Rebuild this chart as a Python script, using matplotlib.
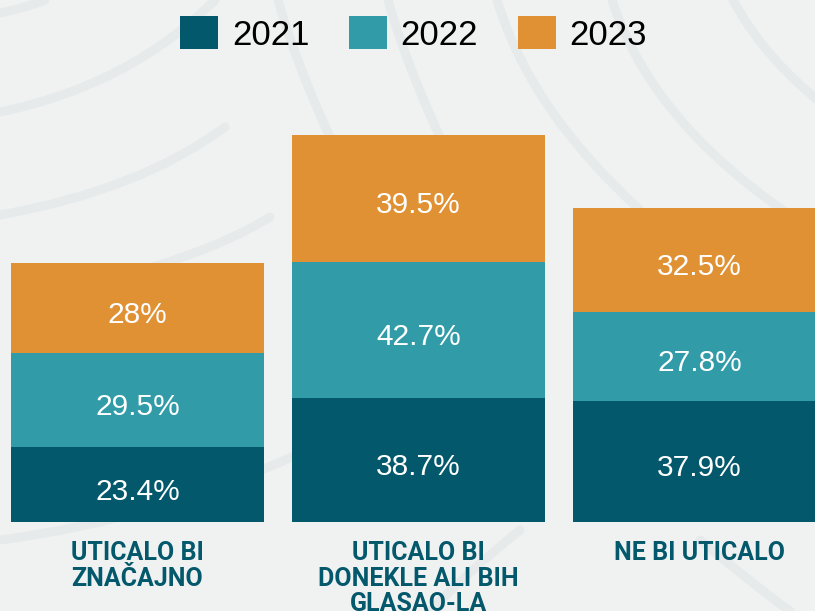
import matplotlib
matplotlib.use('Agg')
import matplotlib.pyplot as plt
from matplotlib.path import Path
from matplotlib.patches import PathPatch
import numpy as np

# ---- data ----
categories = ['UTICALO BI\nZNAČAJNO', 'UTICALO BI\nDONEKLE ALI BIH\nGLASAO-LA', 'NE BI UTICALO']
years = ['2021', '2022', '2023']
v2021 = [23.4, 38.7, 37.9]
v2022 = [29.5, 42.7, 27.8]
v2023 = [28.0, 39.5, 32.5]

colors = ['#03586b', '#319ca8', '#df9134']
bg = '#f0f2f2'
arc_col = '#e6eaeb'

fig = plt.figure(figsize=(8.15, 6.11), dpi=100, facecolor=bg)

# ---- faint decorative arcs in the background ----
bg_ax = fig.add_axes([0, 0, 1, 1], zorder=0)
bg_ax.set_xlim(0, 815)
bg_ax.set_ylim(611, 0)
bg_ax.axis('off')
curves = [
    [(0, 13), (25, 8), (45, 0)],
    [(0, 112), (130, 85), (215, 0)],
    [(0, 215), (140, 190), (225, 127)],
    [(150, 268), (225, 245), (270, 217)],
    [(278, 0), (300, 80), (360, 200)],
    [(388, 0), (410, 80), (470, 200)],
    [(497, 0), (530, 110), (640, 210)],
    [(612, 0), (650, 120), (790, 215)],
    [(733, 0), (765, 60), (830, 110)],
    [(0, 540), (160, 520), (330, 440)],
    [(430, 611), (470, 570), (520, 530)],
    [(700, 540), (760, 590), (790, 611)],
]
for pts in curves:
    path = Path(pts, [Path.MOVETO, Path.CURVE3, Path.CURVE3])
    bg_ax.add_patch(PathPatch(path, fill=False, edgecolor=arc_col, lw=6.5,
                              capstyle='round'))

# ---- stacked bars ----
ax = fig.add_axes([0, 89 / 611, 1, 522 / 611], zorder=1)
ax.set_facecolor('none')
x = np.arange(len(categories))
width = 0.9

bottom = np.zeros(len(categories))
for year, vals, c in zip(years, [v2021, v2022, v2023], colors):
    vals = np.array(vals)
    bars = ax.bar(x, vals, width, bottom=bottom, color=c, label=year, linewidth=0)
    for b, v, b0 in zip(bars, vals, bottom):
        ax.annotate(f'{v:g}%', (b.get_x() + b.get_width() / 2, b0 + v / 2),
                    xytext=(0, -5), textcoords='offset points',
                    ha='center', va='center', color='white', fontsize=21.5,
                    family='Liberation Sans')
    bottom += vals

ax.set_xlim(-0.4893, 2.411)
ax.set_ylim(0, 522 / 3.2)
ax.set_yticks([])
ax.set_xticks(x)
ax.set_xticklabels(categories, fontsize=18, fontweight='bold', color='#03586b',
                   family='Roboto', linespacing=1.08, va='top')
ax.tick_params(axis='x', length=0, pad=14)
for s in ax.spines.values():
    s.set_visible(False)

# ---- legend ----
fig.legend(loc='center', bbox_to_anchor=(413.5 / 815, 1 - 34 / 611), ncol=3,
           frameon=False, prop={'family': 'Liberation Sans', 'size': 25},
           handlelength=1.09, handleheight=1.09, handletextpad=0.4,
           columnspacing=1.14)

plt.savefig('out.png', dpi=100, facecolor=bg)
